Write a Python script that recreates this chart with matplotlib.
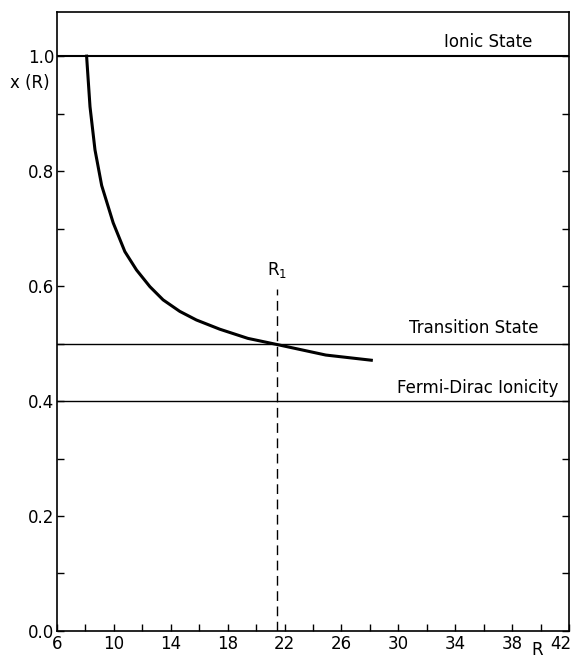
import matplotlib.pyplot as plt
from matplotlib.ticker import MultipleLocator, FuncFormatter

# curve
r_vals = [8.08, 8.32, 8.67, 9.14, 9.95, 10.77, 11.59, 12.53, 13.46, 14.63,
          15.8, 17.44, 19.42, 21.53, 24.9, 28.1]
x_vals = [1.0, 0.912, 0.837, 0.775, 0.71, 0.66, 0.628, 0.599, 0.576, 0.556,
          0.541, 0.525, 0.509, 0.498, 0.48, 0.471]

ionic = 1.0
transition = 0.5
fermi_dirac = 0.4
r1 = 21.5
r1_top = 0.595
r_max = 42

plt.rcParams['font.family'] = 'DejaVu Sans'

fig = plt.figure(figsize=(5.73, 6.6), dpi=100)
ax = fig.add_axes([0.0995, 0.044, 0.8935, 0.938])

ax.plot(r_vals, x_vals, color='black', lw=2.2, solid_joinstyle='round')
ax.axhline(ionic, color='black', lw=1.5)
ax.axhline(transition, color='black', lw=1.0)
ax.axhline(fermi_dirac, color='black', lw=1.0)
ax.plot([r1, r1], [0, r1_top], color='black', lw=1.0, ls=(0, (7, 4)))

ax.text(36.3, 1.024, 'Ionic State', fontsize=12, ha='center', va='center')
ax.text(35.3, 0.527, 'Transition State', fontsize=12, ha='center', va='center')
ax.text(35.6, 0.422, 'Fermi-Dirac Ionicity', fontsize=12, ha='center', va='center')
ax.text(r1, 0.61, r'R$_1$', fontsize=12, ha='center', va='bottom')

ax.set_xlim(6, r_max)
ax.set_ylim(0, 1.077)
ax.xaxis.set_major_locator(MultipleLocator(4, offset=2))
ax.xaxis.set_minor_locator(MultipleLocator(2))
# last label is drawn separately so it stays inside the figure
ax.xaxis.set_major_formatter(FuncFormatter(lambda v, p: '' if v >= r_max else f'{v:.0f}'))
ax.yaxis.set_major_locator(MultipleLocator(0.2))
ax.yaxis.set_minor_locator(MultipleLocator(0.1))
ax.yaxis.set_major_formatter(FuncFormatter(lambda v, p: f'{v:.1f}'))
ax.tick_params(which='both', direction='in', length=5, width=1, labelsize=12,
               right=True, top=False)
ax.tick_params(axis='x', pad=3)
ax.tick_params(axis='y', pad=2)
for s in ax.spines.values():
    s.set_linewidth(1.2)

ax.annotate(f'{r_max}', xy=(r_max, 0), xytext=(2, -3), textcoords='offset points',
            ha='right', va='top', fontsize=12, annotation_clip=False)

fig.text(0.086, 0.874, 'x (R)', fontsize=12, ha='right', va='center')
fig.text(0.937, 0.002, 'R', fontsize=12, ha='center', va='bottom')

fig.savefig('out.png', dpi=100)
